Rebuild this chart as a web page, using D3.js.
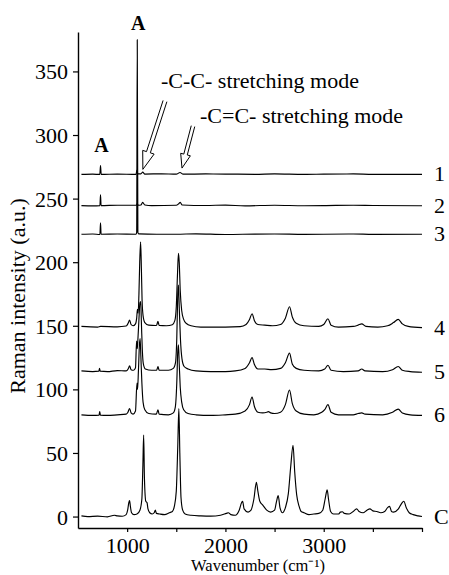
<!DOCTYPE html>
<html><head><meta charset="utf-8">
<script src="https://cdn.jsdelivr.net/npm/d3@7"></script>
<style>
html,body{margin:0;padding:0;background:#fff;}
text{font-family:"Liberation Serif","Times New Roman",serif;fill:#000;}
</style></head>
<body><svg id="c" width="449" height="575"></svg>
<script>
// ---- data (wavenumber cm-1, Raman intensity a.u., offsets included) ----
const xTicks = [1000, 2000, 3000];
const xMinorTicks = [1500, 2500, 3500, 4000];
const yTicks = [0, 50, 100, 150, 200, 250, 300, 350];
const seriesNames = ["1", "2", "3", "4", "5", "6", "C"];

const spec1 = [[535,269],[650,269.2],[722,269],[729,276],[736,269],[900,269.3],[1090,269],[1100,272.5],[1108,269.5],[1140,269.5],[1158,270.8],[1180,269.3],[1350,269.5],[1500,269.2],[1538,270.5],[1570,269.2],[1800,269.4],[2000,269.3],[2300,269.1],[2500,269.4],[2800,269],[3000,269.2],[3300,269.4],[3500,269],[3800,269.1],[4000,269]];
const spec2 = [[535,244.5],[650,244.3],[723,244.5],[729,253],[735,244.5],[900,244.8],[1095,244.8],[1103,246],[1112,244.8],[1140,245],[1158,247],[1180,245],[1250,244.5],[1500,244.8],[1525,246],[1540,247],[1560,245],[1800,244.6],[2000,244.9],[2200,244.3],[2500,244.8],[2800,244.4],[3000,244.5],[3300,244.8],[3500,244.6],[4000,244.4]];
const spec3 = [[535,222],[650,222.2],[723,221.8],[729,231],[735,222],[900,222.2],[1090,222],[1097,223.5],[1103,375],[1109,223.5],[1118,222.3],[1300,222],[1500,222],[1700,222.3],[2000,221.8],[2300,222.1],[2500,222.2],[2800,221.9],[3000,222],[3300,222.2],[3500,221.9],[4000,222]];
const spec4 = [[535,149.5],[700,149],[730,149.5],[900,149.2],[990,149.8],[1010,152],[1025,154.5],[1040,151],[1060,150],[1085,151.5],[1097,156],[1105,163],[1112,160],[1120,175],[1128,200],[1137,216],[1145,195],[1152,170],[1162,158],[1180,152.5],[1220,150.5],[1290,150.2],[1300,150.5],[1314,153.5],[1325,150.3],[1400,150],[1460,150.8],[1485,154],[1500,165],[1512,190],[1522,207],[1530,200],[1540,178],[1555,162],[1575,155],[1600,152],[1650,150],[1750,149],[2000,149],[2150,149.3],[2210,151],[2245,155],[2271,159.5],[2295,154],[2330,151],[2400,150.5],[2480,150],[2560,151],[2610,156],[2652,165],[2680,157],[2720,152],[2800,150],[2950,149.5],[3000,151],[3043,155.5],[3075,150.5],[3150,149],[3300,149.5],[3350,150.5],[3387,151.5],[3430,149.5],[3550,149],[3650,150],[3710,152.5],[3758,155],[3800,151.5],[3860,149.5],[4000,148.5]];
const spec5 = [[535,114.5],[650,114],[712,114.3],[719,116.5],[726,114.3],[800,114],[900,114.8],[990,114.5],[1010,116],[1025,118.5],[1040,115.5],[1065,115],[1085,117],[1096,138],[1103,132],[1110,140],[1120,155],[1130,168],[1138,169],[1146,150],[1155,130],[1165,120],[1185,116],[1250,115],[1300,115],[1314,118],[1325,115],[1420,115],[1470,116.5],[1492,121],[1505,140],[1515,175],[1522,182],[1530,165],[1542,140],[1558,124],[1580,118],[1620,116],[1700,114.5],[1850,114],[2000,114],[2100,114.5],[2200,116.5],[2245,121],[2271,125],[2295,119.5],[2330,116],[2400,116],[2470,115.5],[2560,116.5],[2610,121],[2652,128.5],[2680,120],[2720,116.5],[2800,115],[2950,114.5],[3010,116],[3043,119],[3075,115],[3200,114],[3350,114.5],[3387,116],[3420,114.5],[3600,114],[3700,115.5],[3758,118],[3800,115],[3880,114],[4000,113.5]];
const spec6 = [[535,80],[650,79.5],[714,79.8],[721,82.5],[728,79.8],[800,79.5],[900,80],[990,80.5],[1008,82],[1025,85],[1040,81.5],[1060,80.5],[1085,83],[1100,105],[1106,100],[1115,115],[1125,135],[1132,140],[1140,125],[1150,105],[1162,90],[1180,84],[1220,81],[1290,80.5],[1300,81],[1314,84],[1325,80.5],[1420,80],[1470,81.5],[1490,86],[1505,105],[1515,130],[1522,135],[1530,120],[1540,102],[1555,90],[1575,84],[1620,81],[1700,80],[1850,79.5],[2000,80],[2100,80.5],[2200,83],[2245,88],[2271,94],[2295,86.5],[2330,82],[2380,81.5],[2420,82],[2437,82.5],[2460,81.5],[2500,81],[2560,82],[2610,88],[2652,99.5],[2680,89],[2720,83],[2800,80.5],[2900,80],[2980,82],[3010,84],[3043,88],[3075,82],[3150,80],[3300,80],[3350,81],[3387,81.5],[3420,80.5],[3600,80],[3700,82],[3758,84.5],[3800,81.5],[3880,80],[4000,79.5]];
const specC = [[535,0.5],[600,0],[700,0.3],[800,-0.2],[870,1],[900,0.5],[950,0.2],[990,1.5],[1005,5],[1017,11],[1025,12.6],[1033,8],[1045,3],[1070,1.5],[1100,2],[1130,5],[1150,14],[1160,40],[1168,64],[1176,30],[1190,12],[1202,11],[1212,6],[1230,3],[1255,2],[1275,3],[1287,5],[1298,2.5],[1330,2],[1380,1.5],[1430,3],[1460,4],[1480,8],[1500,20],[1515,55],[1526,85],[1536,50],[1548,15],[1565,5],[1590,2],[1650,1],[1750,0.5],[1850,0.3],[1950,1],[2010,2.5],[2030,3],[2055,1.5],[2100,1],[2140,5],[2165,11],[2175,12],[2190,6],[2230,3.5],[2260,5],[2290,14],[2315,27],[2330,20],[2350,12],[2380,9],[2420,5],[2460,3.5],[2500,5],[2520,12],[2537,16.5],[2555,7],[2580,3],[2610,7],[2640,18],[2665,40],[2688,56],[2705,35],[2725,17],[2750,8],[2770,4],[2800,3],[2850,1.5],[2900,2],[2950,2.5],[2990,5],[3015,14],[3035,21],[3050,13],[3070,4],[3100,2],[3150,2],[3170,3.5],[3190,3.8],[3210,2.5],[3260,2],[3300,4],[3335,6],[3360,4],[3400,3],[3440,5],[3470,6],[3500,4.5],[3540,4],[3580,3],[3620,4],[3650,7],[3670,8],[3690,4],[3710,3.5],[3760,6],[3790,10],[3815,12],[3840,7],[3870,3],[3910,1.5],[3960,0.5],[4000,0]];

const spectra = [spec1, spec2, spec3, spec4, spec5, spec6, specC];

// ---- layout ----
const svg = d3.select("#c");
const x = d3.scaleLinear().domain([500, 4000]).range([78, 422]);
const y = d3.scaleLinear().domain([-9, 381]).range([528, 32]);

// axes
const gx = svg.append("g").attr("transform", "translate(0,528)")
  .call(d3.axisBottom(x).tickValues(xTicks).tickSize(4).tickSizeOuter(0).tickFormat(d3.format("d")));
svg.append("g").attr("transform", "translate(0,528)")
  .call(d3.axisBottom(x).tickValues(xMinorTicks).tickSize(4).tickSizeOuter(0).tickFormat(""))
  .select(".domain").remove();
gx.selectAll("text").attr("y", 25).attr("dy", 0).style("font-size", "22px");
const gy = svg.append("g").attr("transform", "translate(78,0)")
  .call(d3.axisLeft(y).tickValues(yTicks).tickSize(5).tickSizeOuter(0).tickPadding(5));
gy.selectAll("text").style("font-size", "22px").attr("dy", "0.34em");
svg.selectAll(".domain").attr("stroke", "#000").attr("stroke-width", 1.4);
svg.selectAll(".tick line").attr("stroke", "#000").attr("stroke-width", 1.2);
svg.selectAll(".tick text").style("font-family", "'Liberation Serif',serif").attr("fill", "#000");

// spectra
const line = d3.line().x(d => x(d[0])).y(d => y(d[1])).curve(d3.curveMonotoneX);
svg.append("g").selectAll("path").data(spectra).join("path")
  .attr("d", line).attr("fill", "none").attr("stroke", "#000").attr("stroke-width", 1.15)
  .attr("stroke-linejoin", "round");

// series labels
svg.append("g").selectAll("text").data(spectra).join("text")
  .attr("x", 434).attr("y", d => y(d[d.length - 1][1]) + 7)
  .style("font-size", "22px").text((d, i) => seriesNames[i]);

// axis titles
svg.append("text").attr("transform", "translate(25,296) rotate(-90)")
  .attr("text-anchor", "middle").style("font-size", "22px").text("Raman intensity (a.u.)");
svg.append("text").attr("x", 258).attr("y", 571).attr("text-anchor", "middle")
  .style("font-size", "16.5px").text("Wavenumber (cm\u207B\u00B9)");

// annotations
svg.append("text").attr("x", x(1112)).attr("y", 30).attr("text-anchor", "middle")
  .style("font-size", "20px").style("font-weight", "bold").text("A");
svg.append("text").attr("x", x(738)).attr("y", 152).attr("text-anchor", "middle")
  .style("font-size", "20px").style("font-weight", "bold").text("A");
svg.append("text").attr("x", 161).attr("y", 88).style("font-size", "22px").text("-C-C- stretching mode");
svg.append("text").attr("x", 200).attr("y", 123).style("font-size", "22px").text("-C=C- stretching mode");

function hollowArrow(x1, y1, x2, y2, hw, headLen, headHw) {
  const dx = x2 - x1, dy = y2 - y1, L = Math.hypot(dx, dy);
  const ux = dx / L, uy = dy / L, px = -uy, py = ux;
  const bx = x2 - ux * headLen, by = y2 - uy * headLen;
  const pts = [
    [x1 + px * hw, y1 + py * hw], [bx + px * hw, by + py * hw], [bx + px * headHw, by + py * headHw],
    [x2, y2], [bx - px * headHw, by - py * headHw], [bx - px * hw, by - py * hw], [x1 - px * hw, y1 - py * hw]
  ];
  svg.append("path").attr("d", "M" + pts.map(p => p.join(",")).join("L"))
    .attr("fill", "#fff").attr("stroke", "#000").attr("stroke-width", 1);
}
hollowArrow(x(1385), y(326.7), x(1160), y(273), 2, 18, 6);
hollowArrow(x(1670), y(307), x(1558), y(274), 1.8, 14, 5);
</script></body></html>
